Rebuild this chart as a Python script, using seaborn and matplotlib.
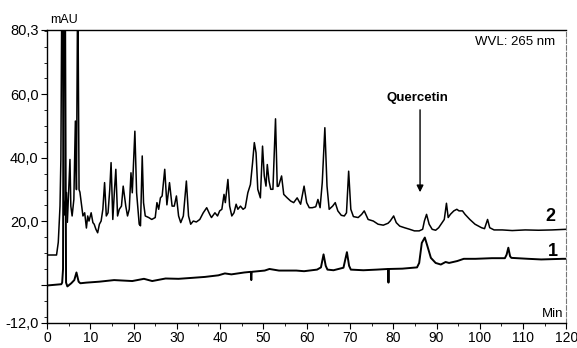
import matplotlib
matplotlib.use("Agg")
import matplotlib.pyplot as plt
from matplotlib.ticker import MultipleLocator
import seaborn as sns

# chromatogram 2 (extract), time in min, absorbance in mAU (values > 80.3 are off-scale)
t2 = [0, 2.2, 2.6, 3.0, 3.2, 3.45, 3.9, 4.0, 4.5, 4.7, 5.3, 5.5, 5.8, 6.2, 6.55, 6.8, 7.1, 7.4,
      7.6, 8.3, 8.7, 9.1, 9.4, 9.7, 10.2, 10.6, 10.9, 11.3, 11.7, 12.1, 12.5, 12.9, 13.3, 13.7,
      14.1, 14.5, 14.8, 15.2, 15.6, 15.9, 16.3, 16.7, 17.2, 17.6, 18.2, 18.6, 19.0, 19.4, 19.7,
      20.3, 20.7, 21.3, 21.6, 22.0, 22.3, 22.7, 23.5, 24.2, 25.0, 25.4, 25.8, 26.2, 26.6, 27.2,
      27.7, 28.3, 28.9, 29.4, 29.9, 30.4, 30.9, 31.5, 32.2, 32.7, 33.2, 33.8, 34.5, 35.3, 36.1,
      36.9, 37.6, 38.0, 38.8, 39.4, 39.9, 40.4, 40.9, 41.2, 41.8, 42.2, 42.7, 43.2, 43.7, 44.1,
      44.7, 45.3, 45.8, 46.4, 47.0, 47.5, 47.9, 48.3, 48.7, 49.3, 49.8, 50.2, 50.6, 50.9, 51.3,
      51.7, 52.2, 52.8, 53.2, 53.5, 54.2, 54.7, 55.5, 56.3, 57.0, 57.8, 58.6, 59.4, 60.0, 60.6,
      61.3, 62.1, 62.6, 63.1, 63.6, 64.2, 64.7, 65.2, 66.0, 66.6, 67.2, 68.0, 68.7, 69.2, 69.7,
      70.2, 70.8, 71.9, 72.7, 73.3, 74.2, 75.4, 76.5, 77.7, 78.8, 79.3, 80.1, 80.7, 81.5, 82.6,
      83.8, 84.9, 86.0, 86.8, 87.2, 87.7, 88.3, 89.0, 89.8, 90.5, 91.3, 91.8, 92.3, 92.7, 93.2,
      94.0, 94.7, 95.2, 96.0, 96.6, 97.7, 98.9, 100.4, 101.1, 101.8, 102.3, 103.3, 105.2, 107.5,
      110.5, 113.6, 116.7, 120]
v2 = [9.4, 9.4, 13.4, 24.8, 39.5, 100, 28, 22, 29.1, 19.7, 39.5, 24.8, 21.7, 26.9, 51.6, 30, 100, 30,
      29.2, 21.7, 22.7, 17.9, 21.7, 20.1, 22.7, 19.6, 19.1, 17.5, 16.4, 19.1, 20.1, 23.8, 32.2, 21.7,
      22.7, 30.1, 38.5, 20.6, 30.1, 36.4, 21.7, 23.8, 24.8, 31.1, 24.8, 21.7, 23.8, 35.3, 29,
      48.4, 29, 19.1, 18.6, 40.6, 25.9, 21.7, 21.2, 20.6, 21.2, 25.9, 23.8, 27.4, 28, 36.4,
      25.2, 32.2, 24.8, 24.8, 28, 21.7, 19.6, 21.7, 32.7, 21.7, 19.1, 20.1, 19.8, 20.6, 22.7,
      24.3, 22.2, 21.2, 22.7, 21.7, 23.3, 23.8, 28.5, 25.9, 33.2, 24.8, 21.7, 22.7, 25.4, 23.8,
      24.8, 23.8, 24.3, 29, 31.6, 38.5, 44.8, 41.6, 30.1, 27.4, 43.7, 34.3, 31.1, 37.9, 32.7,
      30.1, 30.1, 52.3, 31, 31.1, 34.3, 28.5, 27.4, 26.4, 25.9, 27.4, 25.4, 31.1, 25.9, 24.3,
      24.3, 24.6, 26.9, 24.3, 32.2, 49.5, 31.1, 23.8, 24.8, 25.9, 23.3, 21.9, 21.7, 22.7, 35.8,
      23.8, 21.5, 21.2, 22.2, 23.3, 20.6, 20.1, 19.1, 18.8, 19.4, 20.1, 21.7, 19.6, 18.5, 18.0,
      17.5, 17.0, 17.0, 17.5, 20.1, 22.2, 19.1, 17.5, 17.2, 18.0, 19.6, 20.6, 25.7, 21.2, 22.2,
      23.3, 23.8, 23.3, 23.3, 22.2, 20.6, 19.1, 18.0, 17.7, 20.6, 18.0, 17.3, 17.3, 17.1,
      17.3, 17.2, 17.3, 17.5]

# chromatogram 1 (standard)
t1 = [0, 3.3, 3.5, 3.7, 3.85, 4.15, 4.4, 4.7, 5.6, 6.3, 6.8, 7.3, 7.7, 9.1, 12.1, 15.5, 19.7,
      22.4, 24.3, 27.4, 30.4, 33.5, 36.5, 39.6, 41.1, 42.6, 45.6, 47.1, 47.2, 47.3, 50.3, 51.4,
      53.6, 57.6, 59.4, 62.4, 63.3, 63.9, 64.4, 64.8, 66.2, 68.5, 69.3, 69.8, 70.2, 73.1, 76.2,
      78.8, 78.9, 79.0, 82.1, 85.5, 86.0, 86.6, 87.3, 87.9, 88.7, 89.8, 91.0, 92.1, 92.9, 94.8,
      96.3, 99.0, 102.8, 105.8, 106.2, 106.6, 107.0, 107.3, 111.2, 114.2, 119.2, 120]
v1 = [-0.2, 0.2, 0.7, 5, 100, 100, 0.7, -0.5, 0.5, 1.5, 3.9, 1.0, 0.5, 0.7, 1.0, 1.5, 1.2,
      1.9, 1.2, 2.0, 1.9, 2.2, 2.5, 3.0, 3.6, 3.3, 3.9, 4.1, 1.5, 4.1, 4.5, 5.0,
      4.5, 4.5, 4.3, 4.8, 5.5, 9.6, 6.0, 4.8, 4.6, 5.4, 10.3, 6.0, 4.8, 4.6, 4.8,
      5.0, 0.7, 5.0, 5.1, 5.5, 6.9, 13.2, 14.9, 12.2, 8.5, 6.9, 6.4, 7.2, 6.9, 7.5,
      8.2, 8.2, 8.4, 8.4, 9.5, 11.7, 9.0, 8.5, 8.2, 8.0, 8.2, 8.2]

ytick_vals = [80.3, 60, 40, 20, 0, -12]
ytick_labels = ["80,3", "60,0", "40,0", "20,0", "", "-12,0"]
xtick_vals = list(range(0, 121, 10))

sns.set_style("ticks")
plt.rcParams["font.family"] = ["Liberation Sans", "DejaVu Sans"]
plt.rcParams["text.color"] = "black"

fig = plt.figure(figsize=(5.77, 3.48), dpi=100)
ax = fig.add_axes([0.0815, 0.072, 0.9, 0.842])

sns.lineplot(x=t2, y=v2, estimator=None, color="black", lw=1.1, ax=ax)
sns.lineplot(x=t1, y=v1, estimator=None, color="black", lw=1.4, ax=ax)

ax.set_xlim(0, 120)
ax.set_ylim(-12, 80.3)
ax.set_xticks(xtick_vals)
ax.set_xticklabels([str(x) for x in xtick_vals], fontsize=10)
ax.set_yticks(ytick_vals)
ax.set_yticklabels(ytick_labels, fontsize=10.5)
ax.xaxis.set_minor_locator(MultipleLocator(5))
ax.yaxis.set_minor_locator(MultipleLocator(5))
ax.tick_params(which="major", length=4, width=0.8, color="black", labelcolor="black", pad=2)
ax.tick_params(which="minor", length=2.5, width=0.6, color="black")
ax.set_xlabel("")
ax.set_ylabel("")

for side in ["left", "bottom", "top"]:
    ax.spines[side].set_color("black")
    ax.spines[side].set_linewidth(1.0)
ax.spines["right"].set_color("#777777")
ax.spines["right"].set_linewidth(0.8)
ax.spines["right"].set_linestyle((0, (4, 2)))

ax.text(4.0, 81.5, "mAU", fontsize=9, ha="center", va="bottom", fontstretch="condensed")
ax.text(117.5, 76.4, "WVL: 265 nm", fontsize=9.5, ha="right", va="center")
ax.text(119.3, -9.2, "Min", fontsize=9.5, ha="right", va="center")
ax.text(85.5, 59, "Quercetin", fontsize=9.5, fontweight="bold", ha="center", va="center")
ax.annotate("", xy=(86.2, 28.3), xytext=(86.2, 56),
            arrowprops=dict(arrowstyle="-|>", color="black", lw=1.0, mutation_scale=10))
ax.text(116.2, 21.5, "2", fontsize=13, fontweight="bold", ha="center", va="center")
ax.text(117.0, 10.5, "1", fontsize=13, fontweight="bold", ha="center", va="center")

fig.savefig("out.png", dpi=100)
